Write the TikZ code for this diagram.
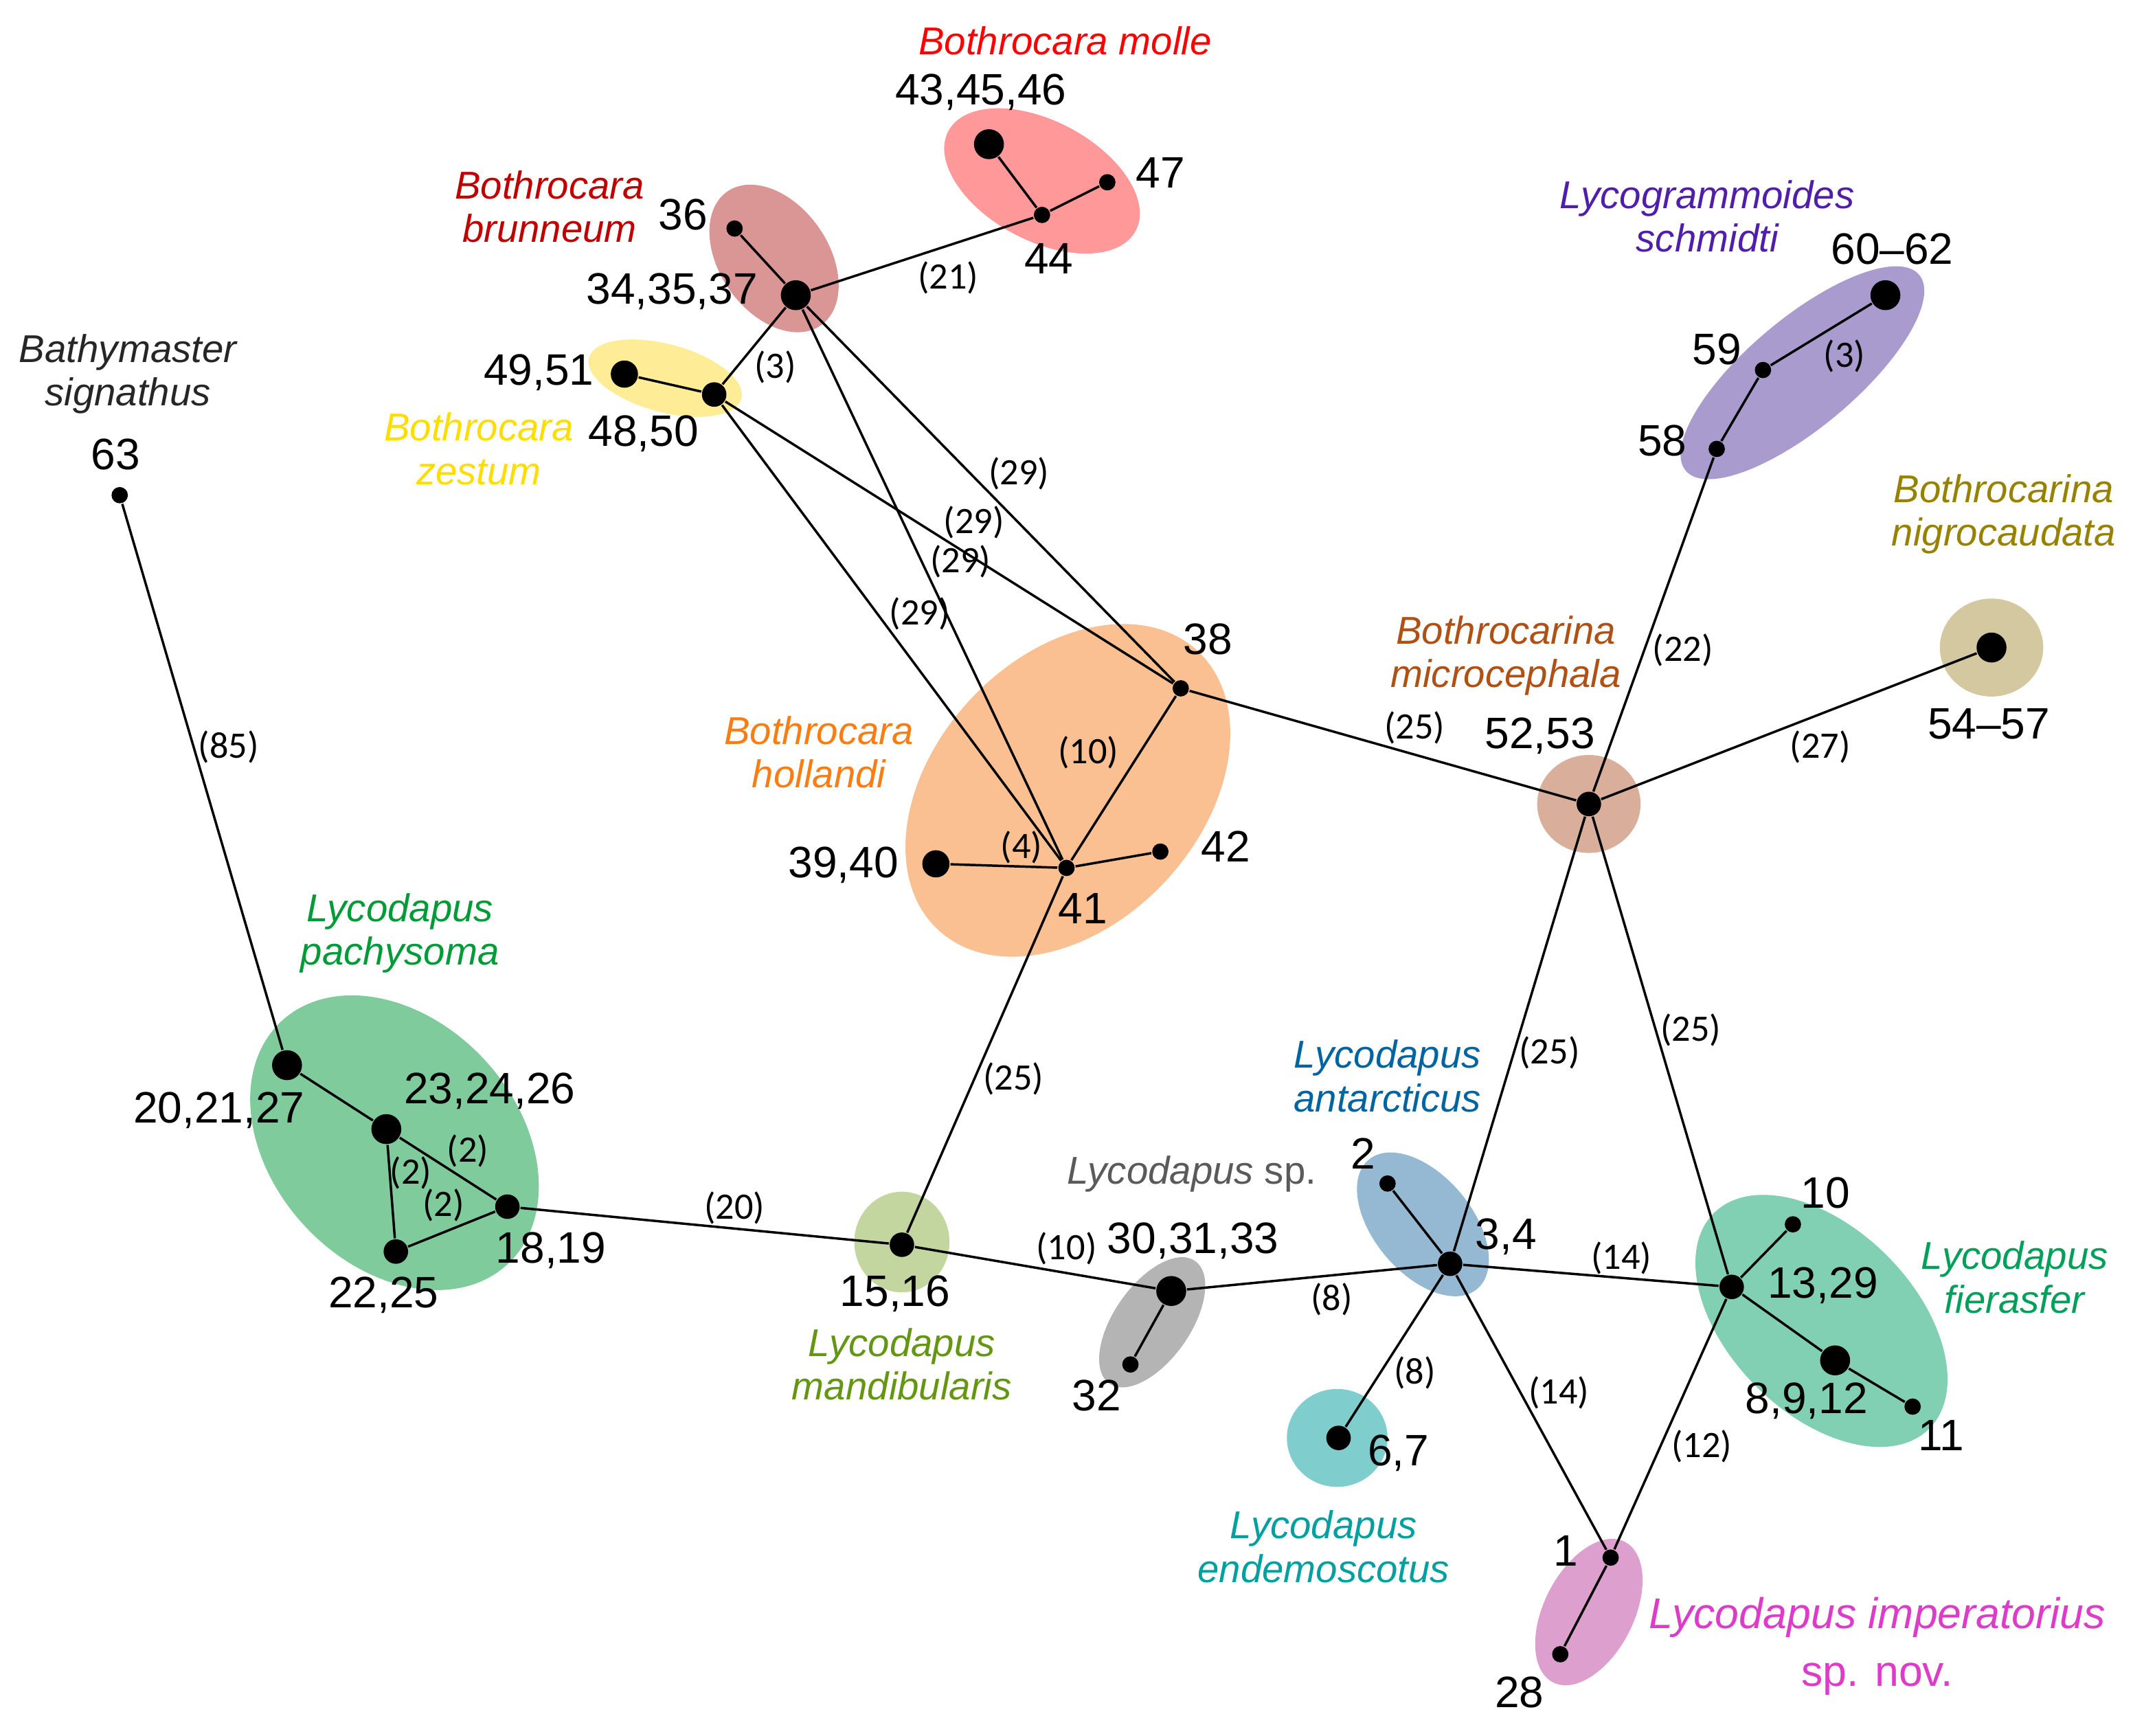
\documentclass[tikz,border=0pt]{standalone}
\usepackage{fontspec}
\setmainfont{Liberation Sans}
\newfontfamily\carl{Carlito}
\definecolor{fMol}{RGB}{255,153,153}
\definecolor{fBru}{RGB}{217,150,148}
\definecolor{fZes}{RGB}{255,236,150}
\definecolor{fHol}{RGB}{250,192,146}
\definecolor{fMic}{RGB}{217,175,155}
\definecolor{fSch}{RGB}{170,155,206}
\definecolor{fNig}{RGB}{212,200,160}
\definecolor{fPac}{RGB}{128,203,155}
\definecolor{fMan}{RGB}{196,214,160}
\definecolor{fSp}{RGB}{180,180,180}
\definecolor{fAnt}{RGB}{149,185,210}
\definecolor{fEnd}{RGB}{128,205,205}
\definecolor{fFie}{RGB}{130,208,180}
\definecolor{fImp}{RGB}{221,160,206}
\definecolor{tMol}{RGB}{255,0,0}
\definecolor{tBru}{RGB}{192,0,0}
\definecolor{tZes}{RGB}{255,221,0}
\definecolor{tBat}{RGB}{38,38,38}
\definecolor{tHol}{RGB}{250,125,20}
\definecolor{tMic}{RGB}{175,80,20}
\definecolor{tSch}{RGB}{80,30,170}
\definecolor{tNig}{RGB}{150,130,0}
\definecolor{tPac}{RGB}{0,155,55}
\definecolor{tMan}{RGB}{100,150,20}
\definecolor{tSp}{RGB}{90,90,90}
\definecolor{tAnt}{RGB}{0,100,160}
\definecolor{tFie}{RGB}{0,160,90}
\definecolor{tEnd}{RGB}{0,160,160}
\definecolor{tImp}{RGB}{220,60,200}
\tikzset{
  hap/.style={circle,fill=black,inner sep=0pt,draw=none},
  bigdot/.style={hap,minimum size=0.22cm},
  middot/.style={hap,minimum size=0.18cm},
  smalldot/.style={hap,minimum size=0.12cm},
  num/.style={inner sep=0pt,font=\fontsize{9.2pt}{11pt}\selectfont},
  elab/.style={inner sep=0pt,font=\carl\fontsize{7.8pt}{9pt}\selectfont},
  sp/.style={inner sep=0pt,align=center,font=\fontsize{8.1pt}{9.1pt}\selectfont\itshape},
  spbig/.style={inner sep=0pt,align=center,font=\fontsize{9pt}{12pt}\selectfont},
  link/.style={draw=black,line width=0.5pt}
}
\begin{document}
\begin{tikzpicture}[x=0.01cm,y=-0.01cm]
\useasboundingbox (0,0) rectangle (1568,1276);
% haplogroup shading
\fill[fMol,rotate around={-28:(766,133)}] (766,133) ellipse [x radius=78,y radius=44];
\fill[fBru,rotate around={-55:(569,190)}] (569,190) ellipse [x radius=60,y radius=40];
\fill[fZes,rotate around={-15:(489,278)}] (489,278) ellipse [x radius=58,y radius=25];
\fill[fHol,rotate around={47:(785,581)}] (785,581) ellipse [x radius=140,y radius=98];
\fill[fMic] (1168,591) ellipse [x radius=38,y radius=36];
\fill[fSch,rotate around={40:(1325,274)}] (1325,274) ellipse [x radius=112,y radius=40];
\fill[fNig] (1464,476) ellipse [x radius=38,y radius=36];
\fill[fPac,rotate around={-47:(290,840)}] (290,840) ellipse [x radius=122,y radius=90];
\fill[fMan] (663,913) ellipse [x radius=35,y radius=37];
\fill[fSp,rotate around={55:(847,972)}] (847,972) ellipse [x radius=55,y radius=28];
\fill[fAnt,rotate around={-50:(1046,900)}] (1046,900) ellipse [x radius=62,y radius=36];
\fill[fEnd] (983,1057) ellipse [x radius=37,y radius=36];
\fill[fFie,rotate around={-45:(1339,971)}] (1339,971) ellipse [x radius=112,y radius=68];
\fill[fImp,rotate around={63:(1168,1185)}] (1168,1185) ellipse [x radius=58,y radius=33];
% haplotypes
\node[bigdot] (h43) at (727,106) {};
\node[smalldot] (h47) at (814,134) {};
\node[smalldot] (h44) at (766,158) {};
\node[smalldot] (h36) at (540,168) {};
\node[bigdot] (h34) at (585,217) {};
\node[bigdot,minimum size=0.2cm] (h49) at (459,275) {};
\node[middot] (h48) at (525,290) {};
\node[smalldot] (h63) at (88,364) {};
\node[smalldot] (h38) at (868,506) {};
\node[bigdot,minimum size=0.2cm] (h39) at (688,635) {};
\node[smalldot] (h41) at (784,638) {};
\node[smalldot] (h42) at (853,626) {};
\node[middot] (h52) at (1168,591) {};
\node[smalldot] (h58) at (1262,330) {};
\node[smalldot] (h59) at (1296,272) {};
\node[bigdot] (h60) at (1386,217) {};
\node[bigdot] (h54) at (1464,476) {};
\node[bigdot] (h20) at (211,783) {};
\node[bigdot] (h23) at (284,830) {};
\node[middot] (h18) at (373,887) {};
\node[middot] (h22) at (291,920) {};
\node[middot] (h15) at (663,915) {};
\node[bigdot] (h30) at (861,949) {};
\node[smalldot] (h32) at (831,1003) {};
\node[smalldot] (h2) at (1020,870) {};
\node[middot] (h3) at (1066,929) {};
\node[middot] (h6) at (984,1057) {};
\node[middot] (h13) at (1273,946) {};
\node[smalldot] (h10) at (1318,900) {};
\node[bigdot] (h8) at (1349,1000) {};
\node[smalldot] (h11) at (1406,1034) {};
\node[smalldot] (h1) at (1184,1145) {};
\node[smalldot] (h28) at (1147,1216) {};
% links
\draw[link] (h44) -- (h43);
\draw[link] (h44) -- (h47);
\draw[link] (h44) -- (h34);
\draw[link] (h36) -- (h34);
\draw[link] (h34) -- (h48);
\draw[link] (h49) -- (h48);
\draw[link] (h34) -- (h38);
\draw[link] (h34) -- (h41);
\draw[link] (h48) -- (h38);
\draw[link] (h48) -- (h41);
\draw[link] (h38) -- (h41);
\draw[link] (h38) -- (h52);
\draw[link] (h39) -- (h41);
\draw[link] (h41) -- (h42);
\draw[link] (h41) -- (h15);
\draw[link] (h52) -- (h58);
\draw[link] (h58) -- (h59);
\draw[link] (h59) -- (h60);
\draw[link] (h52) -- (h54);
\draw[link] (h52) -- (h3);
\draw[link] (h52) -- (h13);
\draw[link] (h63) -- (h20);
\draw[link] (h20) -- (h23);
\draw[link] (h23) -- (h18);
\draw[link] (h23) -- (h22);
\draw[link] (h22) -- (h18);
\draw[link] (h18) -- (h15);
\draw[link] (h15) -- (h30);
\draw[link] (h30) -- (h32);
\draw[link] (h30) -- (h3);
\draw[link] (h2) -- (h3);
\draw[link] (h3) -- (h6);
\draw[link] (h3) -- (h13);
\draw[link] (h3) -- (h1);
\draw[link] (h13) -- (h1);
\draw[link] (h13) -- (h10);
\draw[link] (h13) -- (h8);
\draw[link] (h8) -- (h11);
\draw[link] (h1) -- (h28);
% mutation counts
\node[elab] (e21) at (697,204) {(21)};
\node[elab] (e3a) at (570,270) {(3)};
\node[elab] (e29a) at (749,348) {(29)};
\node[elab] (e29b) at (716,384) {(29)};
\node[elab] (e29c) at (706,413) {(29)};
\node[elab] (e29d) at (676,451) {(29)};
\node[elab] (e10a) at (800,553) {(10)};
\node[elab] (e25a) at (1040,535) {(25)};
\node[elab] (e4) at (751,623) {(4)};
\node[elab] (e25b) at (745,793) {(25)};
\node[elab] (e22) at (1237,478) {(22)};
\node[elab] (e3b) at (1356,262) {(3)};
\node[elab] (e27) at (1338,549) {(27)};
\node[elab] (e25c) at (1139,774) {(25)};
\node[elab] (e25d) at (1243,757) {(25)};
\node[elab] (e85) at (168,549) {(85)};
\node[elab] (e2a) at (344,846) {(2)};
\node[elab] (e2b) at (302,862) {(2)};
\node[elab] (e2c) at (326,886) {(2)};
\node[elab] (e20) at (540,888) {(20)};
\node[elab] (e10b) at (784,918) {(10)};
\node[elab] (e8a) at (979,955) {(8)};
\node[elab] (e8b) at (1040,1009) {(8)};
\node[elab] (e14a) at (1192,925) {(14)};
\node[elab] (e14b) at (1146,1024) {(14)};
\node[elab] (e12) at (1251,1063) {(12)};
% haplotype numbers
\node[num] (l43) at (721,68) {43,45,46};
\node[num] (l47) at (853,127) {47};
\node[num] (l44) at (771,190) {44};
\node[num] (l36) at (502,158) {36};
\node[num] (l34) at (494,214) {34,35,37};
\node[num] (l63) at (85,334) {63};
\node[num] (l49) at (396,274) {49,51};
\node[num] (l48) at (473,319) {48,50};
\node[num] (l60) at (1391,183) {60–62};
\node[num] (l59) at (1262,257) {59};
\node[num] (l58) at (1222,324) {58};
\node[num] (l38) at (888,470) {38};
\node[num] (l52) at (1132,541) {52,53};
\node[num] (l54) at (1462,532) {54–57};
\node[num] (l39) at (620,636) {39,40};
\node[num] (l42) at (901,622) {42};
\node[num] (l41) at (796,668) {41};
\node[num] (l20) at (161,816) {20,21,27};
\node[num] (l23) at (360,802) {23,24,26};
\node[num] (l18) at (405,919) {18,19};
\node[num] (l22) at (282,952) {22,25};
\node[num] (l15) at (658,951) {15,16};
\node[num] (l30) at (877,912) {30,31,33};
\node[num] (l32) at (806,1026) {32};
\node[num] (l2) at (1002,848) {2};
\node[num] (l3) at (1107,909) {3,4};
\node[num] (l6) at (1028,1068) {6,7};
\node[num] (l10) at (1342,877) {10};
\node[num] (l13) at (1340,945) {13,29};
\node[num] (l8) at (1328,1030) {8,9,12};
\node[num] (l11) at (1427,1055) {11};
\node[num] (l1) at (1151,1140) {1};
\node[num] (l28) at (1117,1244) {28};
% species names
\node[sp,text=tMol] (sMol) at (783,30) {Bothrocara molle};
\node[sp,text=tBru] (sBru) at (404,152) {Bothrocara\\brunneum};
\node[sp,text=tBat] (sBat) at (94,275) {Bathymaster\\signathus};
\node[sp,text=tZes] (sZes) at (352,330) {Bothrocara\\zestum};
\node[sp,text=tSch] (sSch) at (1255,159) {Lycogrammoides\\schmidti};
\node[sp,text=tNig] (sNig) at (1473,378) {Bothrocarina\\nigrocaudata};
\node[sp,text=tMic] (sMic) at (1107,482) {Bothrocarina\\microcephala};
\node[sp,text=tHol] (sHol) at (602,553) {Bothrocara\\hollandi};
\node[sp,text=tPac] (sPac) at (294,686) {Lycodapus\\pachysoma};
\node[sp,text=tAnt] (sAnt) at (1020,791) {Lycodapus\\antarcticus};
\node[sp,text=tSp] (sSp) at (876,863) {Lycodapus\upshape{} sp.};
\node[sp,text=tFie] (sFie) at (1481,939) {Lycodapus\\fierasfer};
\node[sp,text=tMan] (sMan) at (663,1003) {Lycodapus\\mandibularis};
\node[sp,text=tEnd] (sEnd) at (973,1137) {Lycodapus\\endemoscotus};
\node[spbig,text=tImp] (sImp) at (1380,1210) {\itshape Lycodapus imperatorius\\sp. nov.};
\end{tikzpicture}
\end{document}
